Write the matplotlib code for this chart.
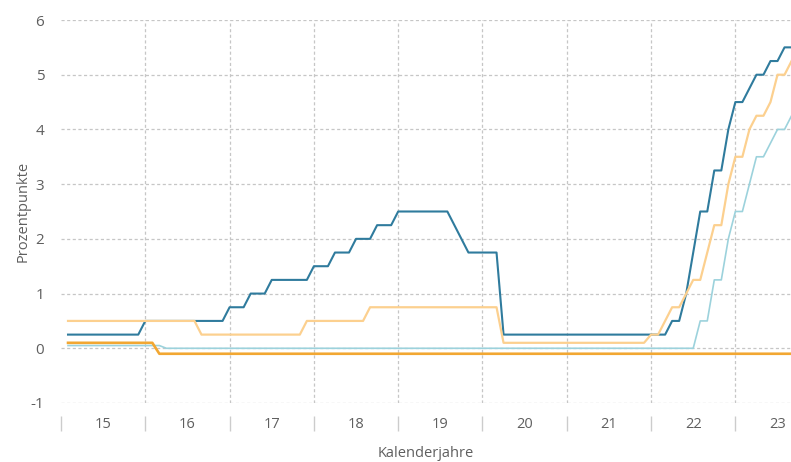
import numpy as np
import pandas as pd
import matplotlib
matplotlib.use("Agg")
import matplotlib.pyplot as plt

plt.rcParams['font.family'] = ['Open Sans', 'DejaVu Sans']

# monthly values, Feb 2015 .. Sep 2023 (value at start of month)
months = pd.date_range('2015-02-01', '2023-09-01', freq='MS')

fed = [
    0.25, 0.25, 0.25, 0.25, 0.25, 0.25, 0.25, 0.25, 0.25, 0.25, 0.25,
    0.5, 0.5, 0.5, 0.5, 0.5, 0.5, 0.5, 0.5, 0.5, 0.5, 0.5, 0.5,
    0.75, 0.75, 0.75, 1.0, 1.0, 1.0, 1.25, 1.25, 1.25, 1.25, 1.25, 1.25,
    1.5, 1.5, 1.5, 1.75, 1.75, 1.75, 2.0, 2.0, 2.0, 2.25, 2.25, 2.25,
    2.5, 2.5, 2.5, 2.5, 2.5, 2.5, 2.5, 2.5, 2.25, 2.0, 1.75, 1.75,
    1.75, 1.75, 1.75, 0.25, 0.25, 0.25, 0.25, 0.25, 0.25, 0.25, 0.25, 0.25,
    0.25, 0.25, 0.25, 0.25, 0.25, 0.25, 0.25, 0.25, 0.25, 0.25, 0.25, 0.25,
    0.25, 0.25, 0.25, 0.5, 0.5, 1.0, 1.75, 2.5, 2.5, 3.25, 3.25, 4.0,
    4.5, 4.5, 4.75, 5.0, 5.0, 5.25, 5.25, 5.5, 5.5,
]

boe = [
    0.5, 0.5, 0.5, 0.5, 0.5, 0.5, 0.5, 0.5, 0.5, 0.5, 0.5,
    0.5, 0.5, 0.5, 0.5, 0.5, 0.5, 0.5, 0.5, 0.25, 0.25, 0.25, 0.25,
    0.25, 0.25, 0.25, 0.25, 0.25, 0.25, 0.25, 0.25, 0.25, 0.25, 0.25, 0.5,
    0.5, 0.5, 0.5, 0.5, 0.5, 0.5, 0.5, 0.5, 0.75, 0.75, 0.75, 0.75,
    0.75, 0.75, 0.75, 0.75, 0.75, 0.75, 0.75, 0.75, 0.75, 0.75, 0.75, 0.75,
    0.75, 0.75, 0.75, 0.1, 0.1, 0.1, 0.1, 0.1, 0.1, 0.1, 0.1, 0.1,
    0.1, 0.1, 0.1, 0.1, 0.1, 0.1, 0.1, 0.1, 0.1, 0.1, 0.1, 0.1,
    0.25, 0.25, 0.5, 0.75, 0.75, 1.0, 1.25, 1.25, 1.75, 2.25, 2.25, 3.0,
    3.5, 3.5, 4.0, 4.25, 4.25, 4.5, 5.0, 5.0, 5.25,
]

ecb = [
    0.05, 0.05, 0.05, 0.05, 0.05, 0.05, 0.05, 0.05, 0.05, 0.05, 0.05,
    0.05, 0.05, 0.05, 0, 0, 0, 0, 0, 0, 0, 0, 0,
    0, 0, 0, 0, 0, 0, 0, 0, 0, 0, 0, 0,
    0, 0, 0, 0, 0, 0, 0, 0, 0, 0, 0, 0,
    0, 0, 0, 0, 0, 0, 0, 0, 0, 0, 0, 0,
    0, 0, 0, 0, 0, 0, 0, 0, 0, 0, 0, 0,
    0, 0, 0, 0, 0, 0, 0, 0, 0, 0, 0, 0,
    0, 0, 0, 0, 0, 0, 0, 0.5, 0.5, 1.25, 1.25, 2.0,
    2.5, 2.5, 3.0, 3.5, 3.5, 3.75, 4.0, 4.0, 4.25,
]

boj = [
    0.1, 0.1, 0.1, 0.1, 0.1, 0.1, 0.1, 0.1, 0.1, 0.1, 0.1,
    0.1, 0.1, -0.1, -0.1, -0.1, -0.1, -0.1, -0.1, -0.1, -0.1, -0.1, -0.1,
    -0.1, -0.1, -0.1, -0.1, -0.1, -0.1, -0.1, -0.1, -0.1, -0.1, -0.1, -0.1,
    -0.1, -0.1, -0.1, -0.1, -0.1, -0.1, -0.1, -0.1, -0.1, -0.1, -0.1, -0.1,
    -0.1, -0.1, -0.1, -0.1, -0.1, -0.1, -0.1, -0.1, -0.1, -0.1, -0.1, -0.1,
    -0.1, -0.1, -0.1, -0.1, -0.1, -0.1, -0.1, -0.1, -0.1, -0.1, -0.1, -0.1,
    -0.1, -0.1, -0.1, -0.1, -0.1, -0.1, -0.1, -0.1, -0.1, -0.1, -0.1, -0.1,
    -0.1, -0.1, -0.1, -0.1, -0.1, -0.1, -0.1, -0.1, -0.1, -0.1, -0.1, -0.1,
    -0.1, -0.1, -0.1, -0.1, -0.1, -0.1, -0.1, -0.1, -0.1,
]

years = [2015, 2016, 2017, 2018, 2019, 2020, 2021, 2022, 2023]
year_labels = ['15', '16', '17', '18', '19', '20', '21', '22', '23']
y_ticks = [-1, 0, 1, 2, 3, 4, 5, 6]

x = months.year + (months.month - 1) / 12

grey = '#5f5f5f'
grid_col = '#c6c6c6'

fig = plt.figure(figsize=(7.91, 4.62), dpi=100)
ax = fig.add_axes([61 / 791, 1 - 403 / 462, 1 - 61 / 791, 383 / 462])

ax.plot(x, fed, color='#2f7b9d', lw=1.5, zorder=3)
ax.plot(x, boe, color='#fcd08f', lw=1.6, zorder=4)
ax.plot(x, ecb, color='#9cd2dc', lw=1.2, zorder=4)
ax.plot(x, boj, color='#f2a732', lw=1.9, zorder=5)

ax.set_xlim(2015, 2023.66)
ax.set_ylim(-1, 6)

for s in ax.spines.values():
    s.set_visible(False)
ax.spines['bottom'].set_position(('outward', 9))

ax.set_yticks(y_ticks)
ax.set_yticklabels([str(v) for v in y_ticks])
ax.tick_params(axis='y', length=0, pad=12, labelsize=11, labelcolor=grey)

ax.set_xticks(years)
ax.set_xticklabels([])
ax.set_xticks([y + 0.5 for y in years], minor=True)
ax.set_xticklabels(year_labels, minor=True)
ax.tick_params(axis='x', which='major', length=11, width=1, color='#cccccc')
ax.tick_params(axis='x', which='minor', length=0, pad=1, labelsize=10.5, labelcolor=grey)

ax.yaxis.grid(True, ls=(0, (2.5, 2)), color=grid_col, lw=0.9)
for yr in years[1:]:
    ax.axvline(yr, ls=(0, (2.5, 2)), color=grid_col, lw=0.9, zorder=1)

ax.set_ylabel('Prozentpunkte', fontsize=10.5, color=grey)
ax.yaxis.set_label_coords(-0.042, 0.5)
ax.set_xlabel('Kalenderjahre', fontsize=10.5, color=grey)
ax.xaxis.set_label_coords(0.5, -0.112)

fig.savefig('out.png', dpi=100)
